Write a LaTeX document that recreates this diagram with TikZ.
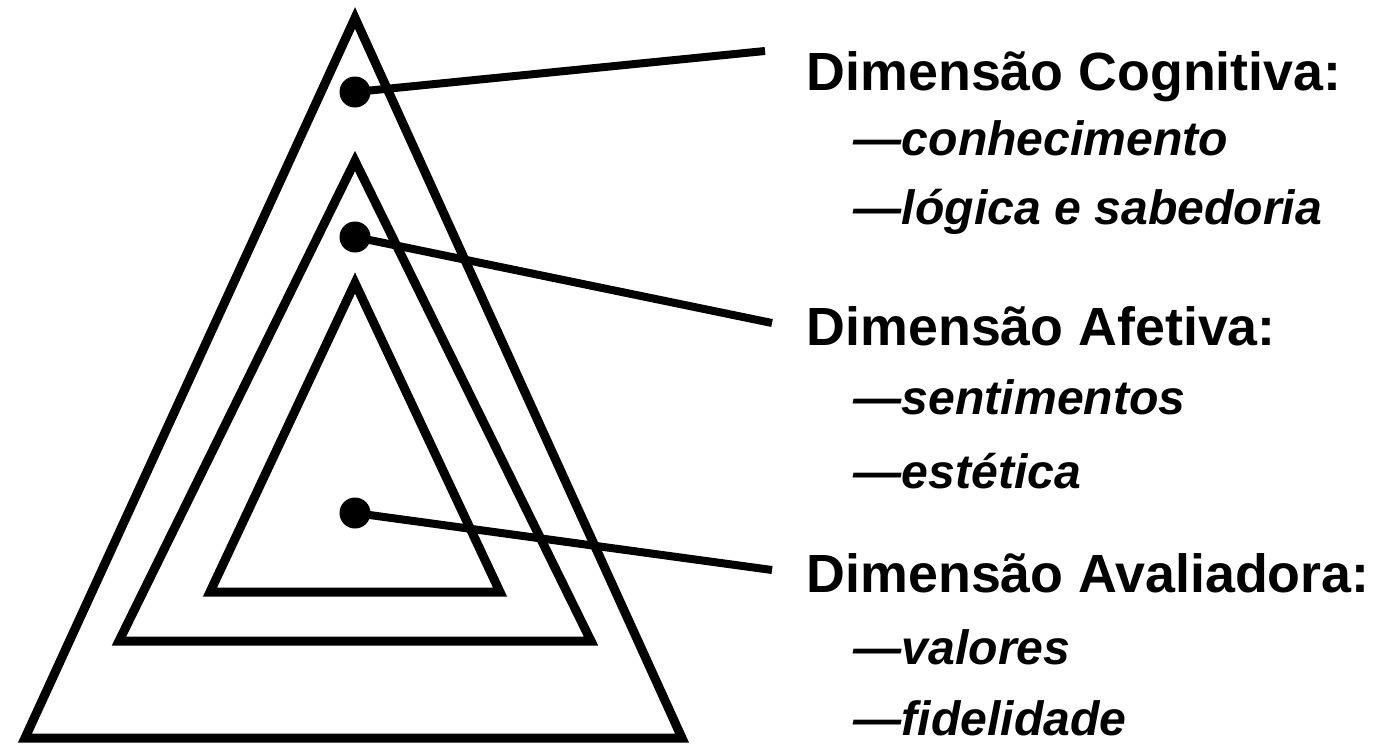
\documentclass[tikz,border=0pt]{standalone}
\usepackage{fontspec}
\setmainfont{Liberation Sans}
\tikzset{
  tri/.style={draw=black,line width=0.9mm,miter limit=20},
  dot/.style={circle,fill=black,inner sep=0pt,minimum size=3.1mm},
  lead/.style={draw=black,line width=0.8mm},
  head/.style={anchor=base west,inner sep=0pt,font=\fontsize{15.3}{18}\selectfont\bfseries},
  item/.style={anchor=base west,inner sep=0pt,font=\fontsize{13.7}{16}\selectfont\bfseries\itshape},
}
\begin{document}
\begin{tikzpicture}[x=0.1mm,y=-0.1mm]
  \useasboundingbox (0,0) rectangle (1379,744);
  % nested triangles: apex y / base y / base left / base right
  \foreach \t/\b/\l/\r in {18/738/25/682, 161/641/119/591, 283/592/210/500}
    \draw[tri] (355,\t) -- (\r,\b) -- (\l,\b) -- cycle;
  % dots
  \node[dot] (cog) at (355,92) {};
  \node[dot] (afe) at (355,237) {};
  \node[dot] (ava) at (355,513) {};
  % free ends of the leaders
  \coordinate (cogend) at (765,51);
  \coordinate (afeend) at (772,323);
  \coordinate (avaend) at (772,570);
  \draw[lead] (cog.center) -- (cogend);
  \draw[lead] (afe.center) -- (afeend);
  \draw[lead] (ava.center) -- (avaend);
  % labels
  \node[head] (coghead) at (806,90) {Dimensão Cognitiva:};
  \node[item] (cog1) at (853,155) {—conhecimento};
  \node[item] (cog2) at (853,224) {—lógica e sabedoria};
  \node[head] (afehead) at (806,345) {Dimensão Afetiva:};
  \node[item] (afe1) at (853,414) {—sentimentos};
  \node[item] (afe2) at (853,488) {—estética};
  \node[head] (avahead) at (806,592) {Dimensão Avaliadora:};
  \node[item] (ava1) at (853,664) {—valores};
  \node[item] (ava2) at (853,735) {—fidelidade};
\end{tikzpicture}
\end{document}
